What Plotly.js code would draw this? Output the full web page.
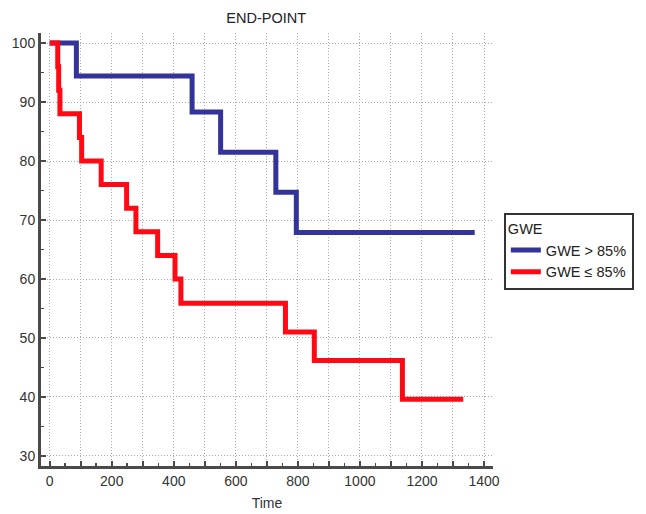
<!DOCTYPE html>
<html>
<head>
<meta charset="utf-8">
<script src="https://cdn.plot.ly/plotly-3.0.1.min.js"></script>
<style>html,body{margin:0;padding:0;background:#fff;}#chart{width:646px;height:514px;}</style>
</head>
<body>
<div id="chart"></div>
<script>
// Kaplan-Meier step data
const highTime = [0, 86, 459, 551, 729, 795, 1370];
const highSurv = [100, 94.4, 88.3, 81.5, 74.7, 67.9, 67.9];
const lowTime = [0, 26, 29, 33, 96, 103, 166, 248, 278, 348, 404, 423, 760, 853, 1137, 1333];
const lowSurv = [100, 96, 92, 88, 84, 80, 76, 72, 68, 64, 60, 55.9, 51, 46.2, 39.6, 39.6];
const seriesNames = ['GWE > 85%', 'GWE \u2264 85%'];
const xTickVals = [0,100,200,300,400,500,600,700,800,900,1000,1100,1200,1300,1400];
const xTickText = ['0','','200','','400','','600','','800','','1000','','1200','','1400'];
const yTickVals = [30,40,50,60,70,80,90,100];

const axisColor = '#4a4a4a';
const fam = 'Arial, "Liberation Sans", Helvetica, sans-serif';
const font = {family: fam, size: 14, color: '#333'};

const traces = [
  {x: highTime, y: highSurv, name: seriesNames[0], mode: 'lines', line: {shape: 'hv', color: '#333399', width: 5}},
  {x: lowTime, y: lowSurv, name: seriesNames[1], mode: 'lines', line: {shape: 'hv', color: '#ff0a14', width: 5}}
];

const gridDash = '1px,2px';

const layout = {
  width: 646, height: 514,
  margin: {l: 41, r: 151, t: 33, b: 48},
  paper_bgcolor: '#fff', plot_bgcolor: '#fff',
  font: font,
  title: {text: 'END-POINT', x: 0.412, xanchor: 'center', y: 0.966, yanchor: 'middle', font: {family: fam, size: 14.5, color: '#222'}},
  showlegend: true,
  legend: {
    x: 1.024, xanchor: 'left', y: 0.584, yanchor: 'top',
    bordercolor: '#333', borderwidth: 2, bgcolor: '#fff',
    title: {text: 'GWE', font: {family: fam, size: 14.5, color: '#222'}},
    font: {family: fam, size: 14.5, color: '#222'},
    tracegroupgap: 0
  },
  xaxis: {
    range: [-28, 1429], fixedrange: true,
    tickmode: 'array', tickvals: xTickVals, ticktext: xTickText,
    ticks: 'inside', ticklen: 5, tickwidth: 2, tickcolor: axisColor,
    showline: true, linecolor: axisColor, linewidth: 3,
    showgrid: true, gridcolor: '#a8a8a8', griddash: gridDash, gridwidth: 1,
    zeroline: false,
    minor: {dtick: 50, tick0: 0, ticks: 'inside', ticklen: 3, tickwidth: 1.5, tickcolor: axisColor, showgrid: false},
    title: {text: 'Time', font: {family: fam, size: 14, color: '#333'}, standoff: 11},
    tickfont: font
  },
  yaxis: {
    range: [28.3, 101.7], fixedrange: true,
    tickmode: 'array', tickvals: yTickVals,
    ticks: 'inside', ticklen: 5, tickwidth: 2, tickcolor: axisColor,
    showline: true, linecolor: axisColor, linewidth: 3,
    showgrid: true, gridcolor: '#a8a8a8', griddash: gridDash, gridwidth: 1,
    zeroline: false,
    minor: {dtick: 5, tick0: 0, ticks: 'inside', ticklen: 3, tickwidth: 1.5, tickcolor: axisColor, showgrid: false},
    tickfont: font
  }
};

Plotly.newPlot('chart', traces, layout, {displayModeBar: false, staticPlot: true});
</script>
</body>
</html>
